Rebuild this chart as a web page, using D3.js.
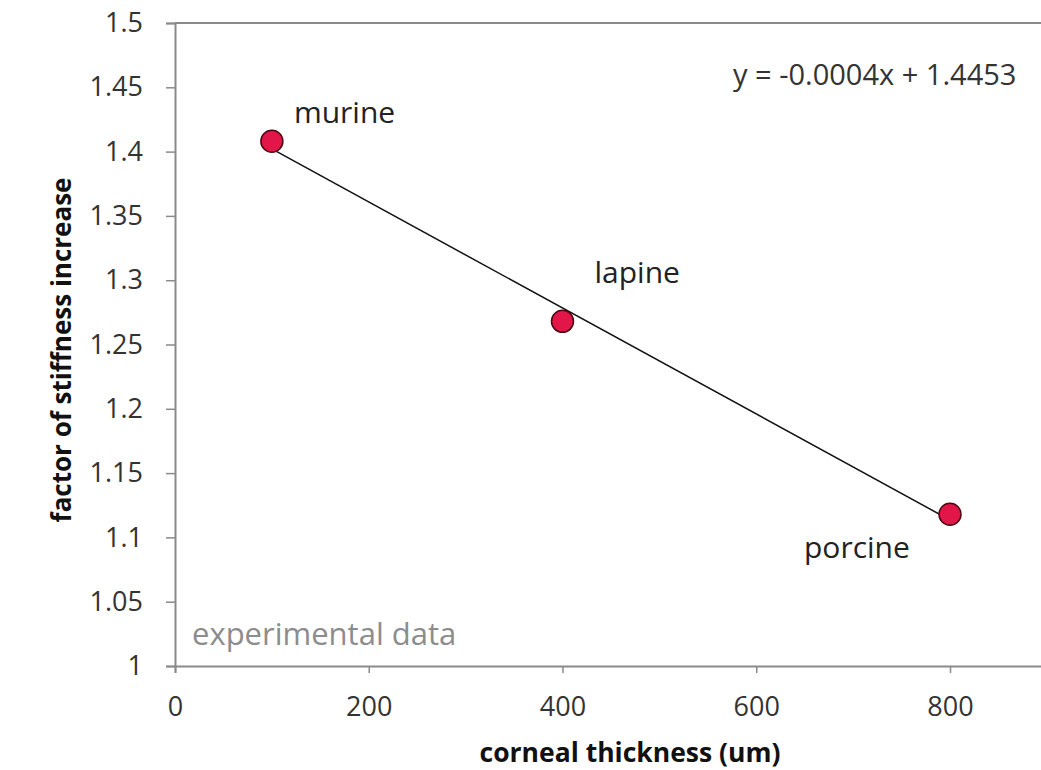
<!DOCTYPE html>
<html>
<head>
<meta charset="utf-8">
<script src="https://cdn.jsdelivr.net/npm/d3@7/dist/d3.min.js"></script>
<style>
  html, body { margin: 0; padding: 0; background: #fff; }
  svg { display: block; }
  text { font-family: "Open Sans", "DejaVu Sans", sans-serif; }
</style>
</head>
<body>
<svg id="chart" width="1041" height="770"></svg>
<script>
// Species measured and their values
const species = ["murine", "lapine", "porcine"];
const thickness = [100, 400, 800];          // corneal thickness (um)
const stiffnessFactor = [1.408, 1.268, 1.118];

// Axis ticks
const xTicks = [0, 200, 400, 600, 800];
const yTicks = [1, 1.05, 1.1, 1.15, 1.2, 1.25, 1.3, 1.35, 1.4, 1.45, 1.5];

const equationText = "y = -0.0004x + 1.4453";

const svg = d3.select("#chart");
const W = 1041, H = 770;
const margin = { left: 175, top: 23, right: 0, bottom: 104 };

const x = d3.scaleLinear().domain([0, 900]).range([margin.left, margin.left + 4.5 * 193.75]);
const y = d3.scaleLinear().domain([1, 1.5]).range([H - margin.bottom, margin.top]);

const axisColor = "#8a8a8a";
const tickFont = 27;

// plot frame top line
svg.append("line")
  .attr("x1", x(0)).attr("x2", W)
  .attr("y1", y(1.5)).attr("y2", y(1.5))
  .attr("stroke", axisColor).attr("stroke-width", 2);

// y axis
const yAxis = d3.axisLeft(y).tickValues(yTicks).tickSize(9).tickPadding(23)
  .tickFormat(d => String(+d.toFixed(2)));
const gy = svg.append("g").attr("transform", `translate(${x(0)},0)`).call(yAxis);
gy.select(".domain").attr("stroke", axisColor).attr("stroke-width", 2);
gy.selectAll(".tick line").attr("stroke", axisColor).attr("stroke-width", 1.5);
gy.selectAll(".tick text").attr("font-size", tickFont).attr("fill", "#333")
  .attr("font-family", "'Open Sans', sans-serif");

// x axis
const xAxis = d3.axisBottom(x).tickValues(xTicks).tickSize(7).tickPadding(24)
  .tickFormat(d3.format("d"));
const gx = svg.append("g").attr("transform", `translate(0,${y(1)})`).call(xAxis);
gx.select(".domain").attr("stroke", axisColor).attr("stroke-width", 2);
gx.selectAll(".tick line").attr("stroke", axisColor).attr("stroke-width", 1.5);
gx.selectAll(".tick text").attr("font-size", tickFont).attr("fill", "#333")
  .attr("font-family", "'Open Sans', sans-serif");

// axis titles
svg.append("text")
  .attr("x", 630).attr("y", 762)
  .attr("text-anchor", "middle")
  .attr("font-size", 26.5).attr("font-weight", "bold").attr("fill", "#111")
  .text("corneal thickness (um)");

svg.append("text")
  .attr("transform", "translate(71,350) rotate(-90)")
  .attr("text-anchor", "middle")
  .attr("font-size", 26).attr("font-weight", "bold").attr("fill", "#111")
  .text("factor of stiffness increase");

// least-squares trend line through the points
const mx = d3.mean(thickness), my = d3.mean(stiffnessFactor);
const sxy = d3.sum(thickness, (v, i) => (v - mx) * (stiffnessFactor[i] - my));
const sxx = d3.sum(thickness, v => (v - mx) * (v - mx));
const slope = sxy / sxx, intercept = my - slope * mx;
const xMin = d3.min(thickness), xMax = d3.max(thickness);

svg.append("line")
  .attr("x1", x(xMin)).attr("y1", y(intercept + slope * xMin))
  .attr("x2", x(xMax)).attr("y2", y(intercept + slope * xMax))
  .attr("stroke", "#111").attr("stroke-width", 1.5);

// data points
const pts = species.map((s, i) => ({ name: s, tx: thickness[i], sf: stiffnessFactor[i] }));
svg.selectAll("circle.pt").data(pts).enter().append("circle")
  .attr("class", "pt")
  .attr("cx", d => x(d.tx)).attr("cy", d => y(d.sf))
  .attr("r", 11)
  .attr("fill", "#e3164a")
  .attr("stroke", "#4a0a14").attr("stroke-width", 1.5);

// point labels
const labelOffset = { murine: [22, -18], lapine: [32, -38], porcine: [-146, 44] };
svg.selectAll("text.lbl").data(pts).enter().append("text")
  .attr("class", "lbl")
  .attr("x", d => x(d.tx) + labelOffset[d.name][0])
  .attr("y", d => y(d.sf) + labelOffset[d.name][1])
  .attr("font-size", 30).attr("fill", "#222")
  .text(d => d.name);

// trend equation
svg.append("text")
  .attr("x", 733).attr("y", 85)
  .attr("font-size", 29).attr("fill", "#333")
  .text(equationText);

// caption inside plot
svg.append("text")
  .attr("x", 192).attr("y", 645)
  .attr("font-size", 31).attr("fill", "#8c8c8c")
  .text("experimental data");
</script>
</body>
</html>
